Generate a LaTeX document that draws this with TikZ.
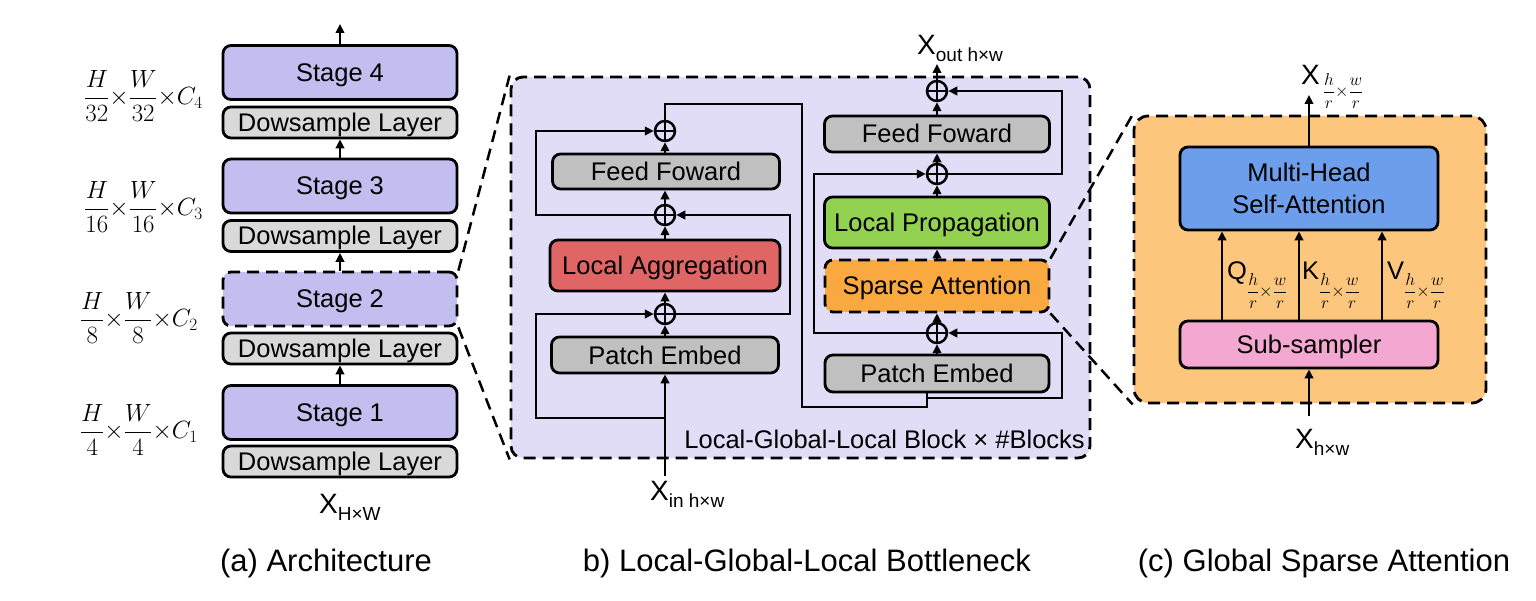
\documentclass[tikz,border=0pt]{standalone}
\usepackage{fontspec}
\setmainfont{Liberation Sans}
\usetikzlibrary{arrows.meta}
\definecolor{stagec}{HTML}{C4BDEF}
\definecolor{dsc}{HTML}{D9D9D9}
\definecolor{grayc}{HTML}{C0C0C0}
\definecolor{blkc}{HTML}{E1DDF6}
\definecolor{lac}{HTML}{E06666}
\definecolor{lpc}{HTML}{93D150}
\definecolor{sac}{HTML}{F9A93F}
\definecolor{gsac}{HTML}{FDC67D}
\definecolor{mhc}{HTML}{6D9EEB}
\definecolor{subc}{HTML}{F4A7D0}
\newcommand{\fsub}[1]{\raisebox{#1}{\fontsize{17}{17}\selectfont$\displaystyle\frac{h}{r}{\times}\frac{w}{r}$}}
\newcommand{\tsub}[1]{\raisebox{-7pt}{\fontsize{19}{19}\selectfont #1}}
\begin{document}
\begin{tikzpicture}[x=1pt,y=-1pt,
  boxbase/.style={draw, rounded corners=8pt, line width=2.8pt, inner sep=0pt, align=center, font=\fontsize{25.5}{32}\selectfont},
  box/.style={boxbase, text height=20pt, text depth=2pt},
  stagebox/.style={box, fill=stagec, minimum width=234pt, minimum height=54pt},
  dsbox/.style={box, fill=dsc, minimum width=234pt, minimum height=31pt},
  graybox/.style={box, fill=grayc},
  arr/.style={line width=2.5pt, -{Triangle[length=9pt,width=8.5pt]}},
  ln/.style={line width=2.5pt},
  sumc/.style={circle, draw, line width=2.5pt, minimum size=20pt, inner sep=0pt},
  zoomline/.style={line width=2.5pt, dash pattern=on 12pt off 7pt},
  dashbox/.style={dash pattern=on 12pt off 7pt},
  lbl/.style={inner sep=0pt, font=\fontsize{25.5}{30}\selectfont},
  captext/.style={inner sep=0pt, font=\fontsize{31}{36}\selectfont},
  fraclbl/.style={inner sep=0pt, anchor=east, font=\fontsize{26}{26}\selectfont}]
\useasboundingbox (0,0) rectangle (1536,601);
\fill[white] (0,0) rectangle (1536,601);

% ---------- panel (a)
\node[stagebox] (s4) at (340,72.5) {Stage 4};
\node[dsbox] (d4) at (340,122.5) {Dowsample Layer};
\node[stagebox] (s3) at (340,186) {Stage 3};
\node[dsbox] (d3) at (340,236) {Dowsample Layer};
\node[stagebox, dashbox] (s2) at (340,299) {Stage 2};
\node[dsbox] (d2) at (340,348.5) {Dowsample Layer};
\node[stagebox] (s1) at (340,412.5) {Stage 1};
\node[dsbox] (d1) at (340,461.5) {Dowsample Layer};
\coordinate (aout) at (340,24);
\draw[arr] (s1.north) -- (d2.south);
\draw[arr] (s2.north) -- (d3.south);
\draw[arr] (s3.north) -- (d4.south);
\draw[arr] (s4.north) -- (aout);
\node[fraclbl] (f4) at (203,96) {$\displaystyle\frac{H}{32}{\times}\frac{W}{32}{\times}C_4$};
\node[fraclbl] (f3) at (203,207) {$\displaystyle\frac{H}{16}{\times}\frac{W}{16}{\times}C_3$};
\node[fraclbl] (f2) at (198,318) {$\displaystyle\frac{H}{8}{\times}\frac{W}{8}{\times}C_2$};
\node[fraclbl] (f1) at (198,430) {$\displaystyle\frac{H}{4}{\times}\frac{W}{4}{\times}C_1$};
\node[anchor=base west, inner sep=0pt] (xa) at (319,513) {{\fontsize{28}{28}\selectfont X}\tsub{H×W}};

% ---------- panel (b)
\node[draw, dashbox, fill=blkc, rounded corners=12pt, line width=2.8pt, minimum width=579pt, minimum height=381pt] (blk) at (800.5,267.5) {};
\node[anchor=base east, lbl] (blklab) at (1085,448) {Local-Global-Local Block × \#Blocks};

\node[graybox, minimum width=227pt, minimum height=35pt] (ff1) at (666,171.5) {Feed Foward};
\node[box, fill=lac, minimum width=230pt, minimum height=51pt] (la) at (665,265.5) {Local Aggregation};
\node[graybox, minimum width=227pt, minimum height=36pt] (pe1) at (665,355) {Patch Embed};
\node[sumc] (c1) at (665,314) {};
\node[sumc] (c2) at (665,215) {};
\node[sumc] (c3) at (665,131) {};

\node[graybox, minimum width=225pt, minimum height=36pt] (ff2) at (937,134) {Feed Foward};
\node[box, fill=lpc, minimum width=225pt, minimum height=51pt] (lp) at (937,222.5) {Local Propagation};
\node[box, fill=sac, dashbox, minimum width=224pt, minimum height=52pt] (sa) at (937,286) {Sparse Attention};
\node[graybox, minimum width=224pt, minimum height=37pt] (pe2) at (937,373.5) {Patch Embed};
\node[sumc] (c4) at (937,333) {};
\node[sumc] (c5) at (937,174) {};
\node[sumc] (c6) at (937,91) {};
\foreach \c in {c1,c2,c3,c4,c5,c6}{
  \draw[ln] (\c.north) -- (\c.south) (\c.west) -- (\c.east);
}

\coordinate (xin) at (665,476);
\coordinate (b1) at (665,418);
\coordinate (lx) at (536,0);
\coordinate (rx) at (790,0);
\coordinate (mx) at (802,0);
\coordinate (l2x) at (814,0);
\coordinate (r2x) at (1062,0);
\coordinate (t1) at (665,104);
\coordinate (pb) at (927,407);
\coordinate (pb2) at (927,398);
\coordinate (xout) at (937,64);

\draw[arr] (xin) -- (pe1.south);
\draw[arr] (b1) -- (b1 -| lx) |- (c1.west);
\draw[arr] (pe1.north) -- (c1.south);
\draw[arr] (c1.north) -- (la.south);
\draw[arr] (c1.east) -- (c1.east -| rx) |- (c2.east);
\draw[arr] (la.north) -- (c2.south);
\draw[arr] (c2.north) -- (c2.north |- ff1.south);
\draw[arr] (c2.west) -- (c2.west -| lx) |- (c3.west);
\draw[arr] (c3.south |- ff1.north) -- (c3.south);
\draw[ln] (c3.north) -- (t1) -- (t1 -| mx) -- (pb -| mx) -- (pb) -- (pb |- pe2.south);
\draw[arr] (pb2) -- (pb2 -| r2x) |- (c4.east);
\draw[arr] (pe2.north) -- (c4.south);
\draw[arr] (c4.north) -- (sa.south);
\draw[arr] (sa.north) -- (lp.south);
\draw[arr] (lp.north) -- (c5.south);
\draw[arr] (c5.north) -- (ff2.south);
\draw[arr] (ff2.north) -- (c6.south);
\draw[arr] (c6.north) -- (xout);
\draw[arr] (c4.west) -- (c4.west -| l2x) |- (c5.west);
\draw[arr] (c5.east) -- (c5.east -| r2x) |- (c6.east);

\node[anchor=base west, inner sep=0pt] (xinl) at (650,500) {{\fontsize{28}{28}\selectfont X}\tsub{in h×w}};
\node[anchor=base west, inner sep=0pt] (xoutl) at (917,55) {{\fontsize{28}{28}\selectfont X}\tsub{out h×w}};

% ---------- panel (c)
\node[draw, dashbox, fill=gsac, rounded corners=14pt, line width=2.8pt, minimum width=352pt, minimum height=287pt] (gsa) at (1310,259.5) {};
\node[boxbase, fill=mhc, minimum width=258pt, minimum height=83pt] (mh) at (1309,188.5) {Multi-Head\\Self-Attention};
\node[box, fill=subc, minimum width=258pt, minimum height=47pt] (sub) at (1309,344.5) {Sub-sampler};
\coordinate (qx) at (1222,0);
\coordinate (kx) at (1299,0);
\coordinate (vx) at (1382,0);
\coordinate (xo) at (1309,95);
\coordinate (xi) at (1309,416);
\draw[arr] (sub.north -| qx) -- (mh.south -| qx);
\draw[arr] (sub.north -| kx) -- (mh.south -| kx);
\draw[arr] (sub.north -| vx) -- (mh.south -| vx);
\draw[arr] (mh.north) -- (xo);
\draw[arr] (xi) -- (sub.south);
\node[anchor=base west, lbl] (ql) at (1227,280) {Q\fsub{-17pt}};
\node[anchor=base west, lbl] (kl) at (1302,280) {K\fsub{-17pt}};
\node[anchor=base west, lbl] (vl) at (1387,280) {V\fsub{-17pt}};
\node[anchor=base west, inner sep=0pt] (xtop) at (1301,85) {{\fontsize{28}{28}\selectfont X}\hspace{3pt}\fsub{-12pt}};
\node[anchor=base west, inner sep=0pt] (xbot) at (1295,448) {{\fontsize{28}{28}\selectfont X}\tsub{h×w}};

% ---------- zoom lines
\draw[zoomline] (s2.north east) -- (blk.north west);
\draw[zoomline] (s2.south east) -- (blk.south west);
\draw[zoomline] (sa.north east) -- (gsa.north west);
\draw[zoomline] (sa.south east) -- (gsa.south west);

% ---------- captions
\node[captext] (capa) at (326,563) {(a) Architecture};
\node[captext] (capb) at (807,563) {b) Local-Global-Local Bottleneck};
\node[captext] (capc) at (1324,563) {(c) Global Sparse Attention};
\end{tikzpicture}
\end{document}
